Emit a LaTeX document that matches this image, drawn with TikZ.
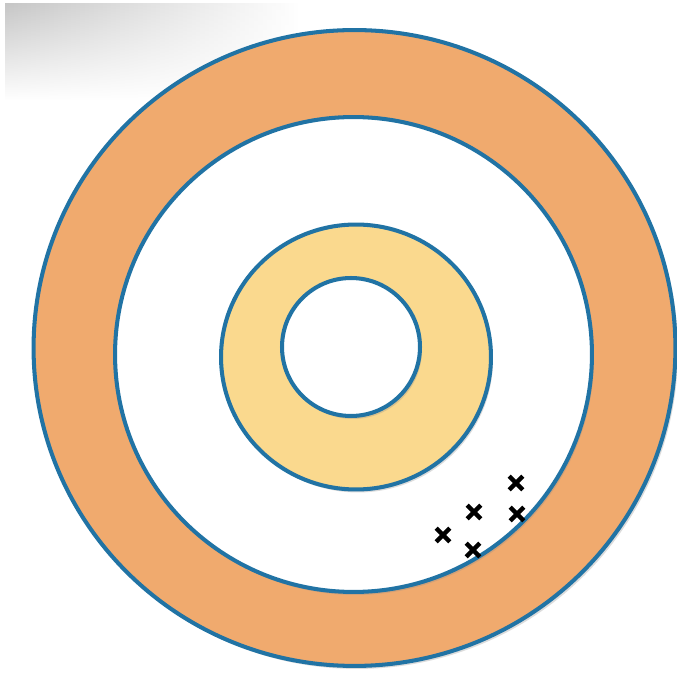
\documentclass[tikz,border=0pt]{standalone}
\usepackage{xcolor}
\usepackage{tikz}
\usetikzlibrary{shapes.misc,shapes.geometric,fadings}

\definecolor{ringorange}{HTML}{F0AA6E}
\definecolor{ringyellow}{HTML}{FAD98E}
\definecolor{ringblue}{HTML}{2173A4}

\tikzfading[name=smearfade, top color=transparent!15, bottom color=transparent!100]

\begin{document}
\begin{tikzpicture}[
  x=0.02cm, y=-0.02cm,
  ring/.style={ellipse, draw=ringblue, line width=2.3pt, inner sep=0pt},
  ringshade/.style={ellipse, fill=black!45, opacity=0.3, inner sep=0pt},
  xmark/.style={cross out, draw=black, line width=2.6pt, minimum size=0.18cm, inner sep=0pt}
]
\useasboundingbox[fill=white] (0,0) rectangle (677,675);

% grey smear in the top left corner
\shade[left color=black!26, right color=white, path fading=smearfade] (5,4) rectangle (300,100);

% rings, outside in
\node[ringshade, minimum width=12.84cm, minimum height=12.72cm] (outershade) at (357,351) {};
\node[ring, fill=ringorange, minimum width=12.84cm, minimum height=12.72cm] (outer) at (354.5,348) {};
\node[ringshade, minimum width=9.54cm, minimum height=9.5cm] (midshade) at (355.5,357.5) {};
\node[ring, fill=white, minimum width=9.54cm, minimum height=9.5cm] (mid) at (353.5,354.5) {};
\node[ringshade, minimum width=5.4cm, minimum height=5.3cm] (yellowshade) at (358,360) {};
\node[ring, fill=ringyellow, minimum width=5.4cm, minimum height=5.3cm] (yellow) at (356,357) {};
\node[ringshade, minimum size=2.76cm] (innershade) at (353,350) {};
\node[ring, fill=white, minimum size=2.76cm] (inner) at (351,347) {};

% marks
\node[xmark] (m1) at (516,483) {};
\node[xmark] (m2) at (474,512) {};
\node[xmark] (m3) at (517,514) {};
\node[xmark] (m4) at (443,535) {};
\node[xmark] (m5) at (473,550) {};
\end{tikzpicture}
\end{document}
